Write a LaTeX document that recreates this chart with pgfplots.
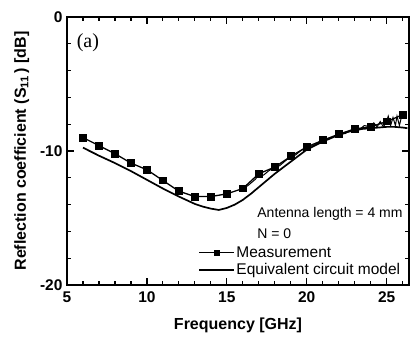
\documentclass[border=0pt]{standalone}
\usepackage{pgfplots}
\pgfplotsset{compat=1.18}
\usepackage{fontspec}
\setmainfont{Liberation Sans}
\newfontfamily\seriffont{Liberation Serif}
\begin{document}
\begin{tikzpicture}[x=1pt,y=1pt]
\useasboundingbox (-67,-58) rectangle (343,285);
\begin{axis}[
  scale only axis, width=342pt, height=268pt,
  at={(0,0)}, anchor=south west,
  xmin=5, xmax=26.4, ymin=-20, ymax=0,
  xtick={5,10,15,20,25}, ytick={-20,-10,0},
  minor xtick={6,7,8,9,11,12,13,14,16,17,18,19,21,22,23,24,26},
  minor ytick={-18,-16,-14,-12,-8,-6,-4,-2},
  tick align=inside, major tick length=7pt, minor tick length=4pt,
  every tick/.style={black, line width=1.2pt},
  axis line style={line width=1.4pt},
  ticklabel style={font=\fontsize{15.5}{17}\selectfont\bfseries},
  xticklabel style={yshift=-3pt},
  yticklabel style={xshift=-1pt},
  /pgf/number format/assume math mode=true,
  xlabel={\fontsize{16}{18}\selectfont\bfseries Frequency [GHz]},
  ylabel={\fontsize{16}{18}\selectfont\bfseries Reflection coefficient (S\textsubscript{11}\,) [dB]},
  xlabel style={yshift=-9pt},
  ylabel style={yshift=4pt},
  legend style={draw=none, fill=none, at={(axis cs:13.2,-17.0)}, anchor=north west,
    font=\fontsize{15.5}{17}\selectfont, row sep=2pt, inner sep=0pt,
    nodes={inner sep=1.5pt}},
  legend cell align=left,
  legend image code/.code={\draw[#1] (0pt,0pt) -- (35pt,0pt);
    \path[#1, mark size=2.3pt] plot coordinates {(18pt,0pt)};},
  clip=false,
]
\addplot[black, line width=1.3pt, mark=square*, mark size=3.3pt, mark options={solid}] coordinates {
(6,-9.0) (7,-9.6) (8,-10.2) (9,-10.9) (10,-11.4) (11,-12.2) (12,-13.0) (13,-13.4)
(14,-13.4) (15,-13.2) (16,-12.8) (17,-11.7) (18,-11.2) (19,-10.4) (20,-9.7)
(21,-9.2) (22,-8.75) (23,-8.35) (24,-8.2) (25,-7.8) (26,-7.3)};
\addlegendentry{Measurement}
\addplot[black, line width=1.7pt] coordinates {
(6,-9.75) (7,-10.35) (8,-10.9) (9,-11.5) (10,-12.15) (11,-12.8) (12,-13.4) (13,-13.95)
(13.5,-14.15) (14,-14.3) (14.5,-14.4) (15,-14.25) (15.5,-14.0) (16,-13.65) (16.5,-13.2)
(17,-12.7) (17.5,-12.2) (18,-11.7) (18.5,-11.25) (19,-10.8) (19.5,-10.35) (20,-9.9)
(20.5,-9.6) (21,-9.3) (21.5,-9.05) (22,-8.8) (22.5,-8.6) (23,-8.45) (23.5,-8.35)
(24,-8.3) (24.5,-8.25) (25,-8.2) (25.5,-8.2) (26,-8.25) (26.3,-8.3)};
\addlegendentry{Equivalent circuit model}
\addplot[black, line width=1.0pt, forget plot] coordinates {
(16,-12.8) (16.3,-12.6) (16.6,-12.3) (16.8,-12.1) (17,-11.7) (17.3,-11.8) (17.6,-11.5)
(18,-11.2) (18.3,-11.1) (18.6,-10.8) (19,-10.4) (19.3,-10.3) (19.6,-10.0) (20,-9.7)
(20.4,-9.6) (20.7,-9.4) (21,-9.2) (21.4,-9.1) (21.7,-8.9) (22,-8.75) (22.4,-8.7)
(22.7,-8.5) (23,-8.35) (23.3,-8.4) (23.6,-8.1) (24,-8.2) (24.2,-7.9) (24.4,-8.2)
(24.6,-7.8) (24.8,-8.2) (25,-7.8) (25.1,-7.4) (25.25,-8.1) (25.4,-7.5) (25.55,-8.1)
(25.65,-7.4) (25.8,-8.1) (25.9,-7.6) (26,-7.3)};
\node[anchor=west, font=\fontsize{14}{16}\selectfont, inner sep=0pt] at (axis cs:16.9,-14.7) {Antenna length = 4 mm};
\node[anchor=west, font=\fontsize{14}{16}\selectfont, inner sep=0pt] at (axis cs:16.9,-16.2) {N = 0};
\node[anchor=west, font=\seriffont\fontsize{20}{22}\selectfont, inner sep=0pt] at (axis cs:5.6,-1.95) {(a)};
\end{axis}
\end{tikzpicture}
\end{document}
